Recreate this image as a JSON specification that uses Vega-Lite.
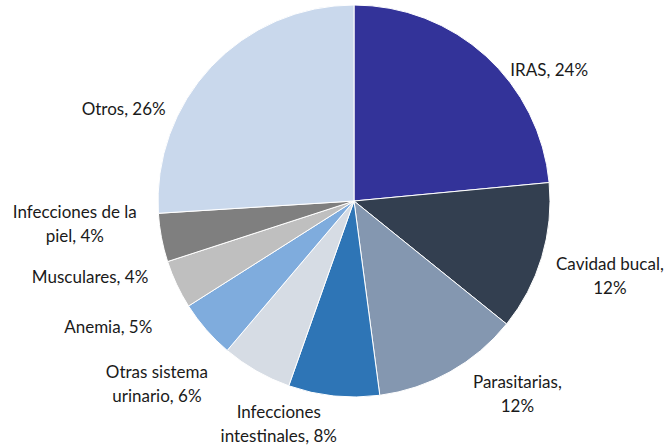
{
  "$schema": "https://vega.github.io/schema/vega-lite/v6.json",
  "width": 626,
  "height": 402,
  "autosize": "none",
  "padding": {"left": 41, "right": 0, "top": 0, "bottom": 45},
  "background": "white",
  "view": {"stroke": null},
  "data": {
    "values": [
      {"i": 1, "cat": "IRAS", "pct": 23.5, "label": ["IRAS, 24%"]},
      {"i": 2, "cat": "Cavidad bucal", "pct": 12.3, "label": ["Cavidad bucal,", "12%"]},
      {"i": 3, "cat": "Parasitarias", "pct": 12.1, "label": ["Parasitarias,", "12%"]},
      {"i": 4, "cat": "Infecciones intestinales", "pct": 7.5, "label": ["Infecciones", "intestinales, 8%"]},
      {"i": 5, "cat": "Otras sistema urinario", "pct": 5.8, "label": ["Otras sistema", "urinario, 6%"]},
      {"i": 6, "cat": "Anemia", "pct": 4.8, "label": ["Anemia, 5%"]},
      {"i": 7, "cat": "Musculares", "pct": 4.0, "label": ["Musculares, 4%"]},
      {"i": 8, "cat": "Infecciones de la piel", "pct": 4.0, "label": ["Infecciones de la", "piel, 4%"]},
      {"i": 9, "cat": "Otros", "pct": 26.0, "label": ["Otros, 26%"]}
    ]
  },
  "encoding": {
    "theta": {"field": "pct", "type": "quantitative", "stack": true},
    "order": {"field": "i", "type": "quantitative"},
    "color": {
      "field": "cat",
      "type": "nominal",
      "legend": null,
      "scale": {
        "domain": ["IRAS", "Cavidad bucal", "Parasitarias", "Infecciones intestinales", "Otras sistema urinario", "Anemia", "Musculares", "Infecciones de la piel", "Otros"],
        "range": ["#333399", "#333F50", "#8497B0", "#2E75B6", "#D6DCE4", "#7FACDD", "#BFBFBF", "#7F7F7F", "#C9D8EC"]
      }
    }
  },
  "layer": [
    {
      "mark": {"type": "arc", "outerRadius": 196, "stroke": "white", "strokeWidth": 1}
    },
    {
      "mark": {
        "type": "text", "radius": 215, "font": "Lato", "fontSize": 17, "baseline": "middle", "lineHeight": 24, "align": "center",
        "dx": {"expr": "datum.cat == 'Cavidad bucal' ? 50 : datum.cat == 'Parasitarias' ? 58 : datum.cat == 'Infecciones intestinales' ? -53 : datum.cat == 'Otras sistema urinario' ? -90 : -68"},
        "dy": {"expr": "datum.cat == 'Cavidad bucal' ? 2 : datum.cat == 'Parasitarias' ? -5 : datum.cat == 'Infecciones intestinales' ? -2 : datum.cat == 'Otras sistema urinario' ? -14 : -28"}
      },
      "encoding": {
        "text": {"condition": {"test": "length(datum.label) > 1", "field": "label"}, "value": ""},
        "color": {"value": "#1a1a1a"}
      }
    },
    {
      "mark": {
        "type": "text", "radius": 213, "font": "Lato", "fontSize": 17, "baseline": "middle",
        "align": {"expr": "datum.cat == 'IRAS' ? 'left' : 'right'"},
        "dx": {"expr": "datum.cat == 'IRAS' ? 13 : datum.cat == 'Otros' ? -33 : datum.cat == 'Anemia' ? -41 : -13"},
        "dy": {"expr": "datum.cat == 'IRAS' ? 28 : datum.cat == 'Otros' ? 55 : datum.cat == 'Anemia' ? -13 : -14"}
      },
      "encoding": {
        "text": {"condition": {"test": "length(datum.label) == 1", "field": "label"}, "value": ""},
        "color": {"value": "#1a1a1a"}
      }
    }
  ]
}
